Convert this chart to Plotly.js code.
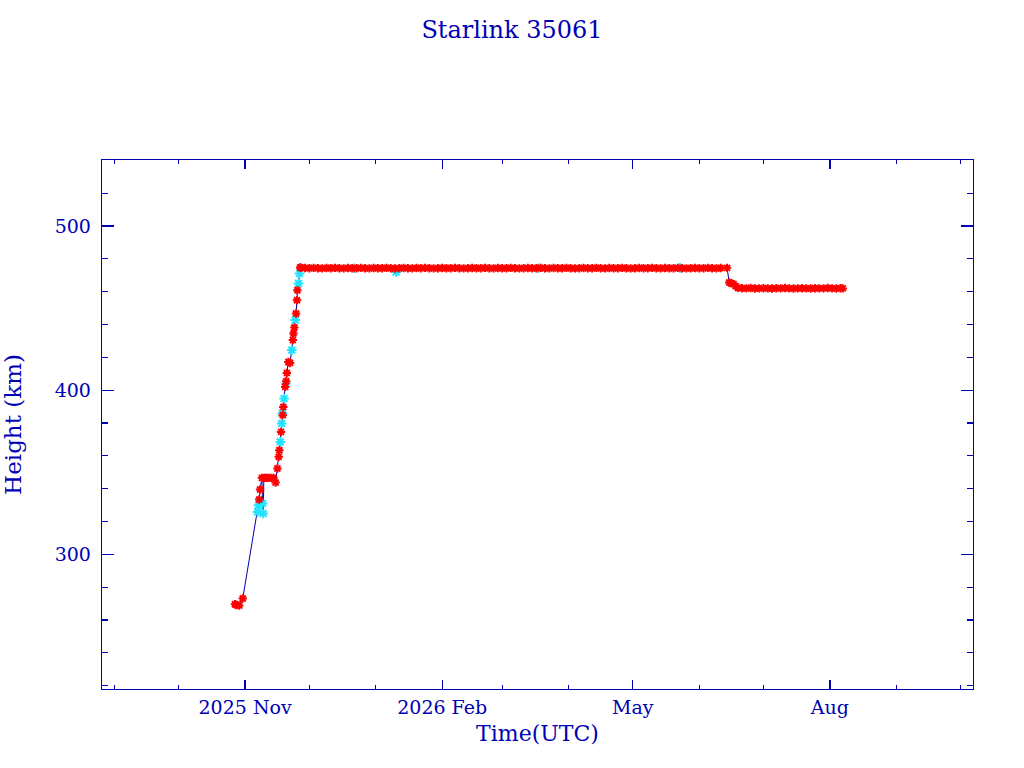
<!DOCTYPE html>
<html>
<head>
<meta charset="utf-8">
<script src="https://cdn.plot.ly/plotly-3.0.1.min.js"></script>
<style>html,body{margin:0;padding:0;background:#fff;}#chart{width:1024px;height:768px;}</style>
</head>
<body>
<div id="chart"></div>
<script>
// ---- data ----
const chartTitle = "Starlink 35061";
const xTitle = "Time(UTC)";
const yTitle = "Height (km)";

const xTickDates = ["2025-11-01", "2026-02-01", "2026-05-01", "2026-08-01"];
const xTickLabels = ["2025 Nov", "2026 Feb", "May", "Aug"];

// red (primary) observations: rise phase
const redRiseDates = [
  "2025-10-27 07:00", "2025-10-28 00:00", "2025-10-29 07:00", "2025-10-30 22:00",
  "2025-11-07 14:00", "2025-11-08 00:00", "2025-11-08 20:00", "2025-11-09 18:00",
  "2025-11-10 12:00", "2025-11-11 06:00", "2025-11-12 06:00", "2025-11-13 06:00",
  "2025-11-14 06:00", "2025-11-15 06:00", "2025-11-16 02:00", "2025-11-16 17:00",
  "2025-11-17 00:00", "2025-11-17 19:00", "2025-11-18 14:00", "2025-11-18 20:00",
  "2025-11-19 17:00", "2025-11-20 05:00", "2025-11-20 12:00", "2025-11-21 05:00",
  "2025-11-22 00:00", "2025-11-23 07:00", "2025-11-23 14:00", "2025-11-24 00:00",
  "2025-11-24 19:00", "2025-11-25 05:00", "2025-11-25 10:00", "2025-11-26 17:00"
];
const redRiseHeights = [
  269.6, 269.2, 268.8, 273.1,
  333.4, 339.5, 346.6, 346.6,
  346.6, 346.6, 346.6, 346.6,
  346.6, 343.8, 352.3, 359.4,
  363.4, 374.6, 384.8, 389.8,
  402.0, 405.5, 410.5, 417.2,
  416.6, 430.5, 434.5, 438.2,
  446.7, 454.8, 460.9, 474.7
];

// red observations: upper plateau
const redUpperDates = [
  "2025-11-27","2025-11-29","2025-12-01","2025-12-03","2025-12-05","2025-12-07","2025-12-09","2025-12-11","2025-12-13","2025-12-15",
  "2025-12-17","2025-12-19","2025-12-21","2025-12-23","2025-12-25","2025-12-27","2025-12-29","2025-12-31","2026-01-02","2026-01-04",
  "2026-01-06","2026-01-08","2026-01-10","2026-01-12","2026-01-14","2026-01-16","2026-01-18","2026-01-20","2026-01-22","2026-01-24",
  "2026-01-26","2026-01-28","2026-01-30","2026-02-01","2026-02-03","2026-02-05","2026-02-07","2026-02-09","2026-02-11","2026-02-13",
  "2026-02-15","2026-02-17","2026-02-19","2026-02-21","2026-02-23","2026-02-25","2026-02-27","2026-03-01","2026-03-03","2026-03-05",
  "2026-03-07","2026-03-09","2026-03-11","2026-03-13","2026-03-15","2026-03-17","2026-03-19","2026-03-21","2026-03-23","2026-03-25",
  "2026-03-27","2026-03-29","2026-03-31","2026-04-02","2026-04-04","2026-04-06","2026-04-08","2026-04-10","2026-04-12","2026-04-14",
  "2026-04-16","2026-04-18","2026-04-20","2026-04-22","2026-04-24","2026-04-26","2026-04-28","2026-04-30","2026-05-02","2026-05-04",
  "2026-05-06","2026-05-08","2026-05-10","2026-05-12","2026-05-14","2026-05-16","2026-05-18","2026-05-20","2026-05-22","2026-05-24",
  "2026-05-26","2026-05-28","2026-05-30","2026-06-01","2026-06-03","2026-06-05","2026-06-07","2026-06-09","2026-06-11","2026-06-14"
];
const redUpperHeights = [
  474.6, 474.4, 474.3, 474.5, 474.3, 474.2, 474.4, 474.3, 474.5, 474.3,
  474.2, 474.4, 474.3, 474.3, 474.5, 474.3, 474.2, 474.4, 474.3, 474.3,
  474.5, 474.3, 474.1, 474.3, 474.4, 474.3, 474.2, 474.4, 474.3, 474.5,
  474.3, 474.2, 474.3, 474.4, 474.3, 474.3, 474.5, 474.3, 474.2, 474.3,
  474.4, 474.3, 474.3, 474.5, 474.3, 474.2, 474.4, 474.3, 474.3, 474.5,
  474.3, 474.2, 474.3, 474.4, 474.3, 474.3, 474.5, 474.3, 474.2, 474.4,
  474.3, 474.3, 474.5, 474.3, 474.2, 474.3, 474.4, 474.3, 474.3, 474.5,
  474.3, 474.2, 474.4, 474.3, 474.3, 474.5, 474.3, 474.2, 474.3, 474.4,
  474.3, 474.3, 474.5, 474.3, 474.2, 474.4, 474.3, 474.3, 474.5, 474.3,
  474.2, 474.3, 474.4, 474.3, 474.3, 474.5, 474.3, 474.2, 474.4, 474.5
];

// red observations: lower plateau
const redLowerDates = [
  "2026-06-15","2026-06-16","2026-06-17","2026-06-18","2026-06-19","2026-06-21","2026-06-23","2026-06-25","2026-06-27","2026-06-29",
  "2026-07-01","2026-07-03","2026-07-05","2026-07-07","2026-07-09","2026-07-11","2026-07-13","2026-07-15","2026-07-17","2026-07-19",
  "2026-07-21","2026-07-23","2026-07-25","2026-07-27","2026-07-29","2026-07-31","2026-08-02","2026-08-04","2026-08-06","2026-08-07"
];
const redLowerHeights = [
  465.6, 465.2, 464.6, 463.4, 462.4, 462.1, 462.0, 462.2, 461.9, 462.0,
  462.1, 462.0, 461.9, 462.1, 462.0, 462.2, 462.0, 461.9, 462.0, 462.1,
  462.0, 461.9, 462.1, 462.0, 462.0, 462.2, 462.0, 461.9, 462.1, 462.0
];

// cyan (secondary) observations
const cyanDates = [
  "2025-11-06 19:00", "2025-11-07 05:00", "2025-11-09 04:00", "2025-11-09 12:00",
  "2025-11-17 10:00", "2025-11-18 02:00", "2025-11-18 10:00", "2025-11-19 05:00",
  "2025-11-20 02:00", "2025-11-22 19:00", "2025-11-24 10:00", "2025-11-25 22:00",
  "2025-11-26 10:00", "2025-12-22 00:00", "2026-01-10 12:00", "2026-03-18 00:00",
  "2026-05-23 00:00"
];
const cyanHeights = [
  325.8, 329.9, 331.0, 324.9,
  368.5, 379.7, 386.0, 394.9,
  404.0, 424.4, 442.7, 465.0,
  471.1, 474.3, 472.0, 474.3,
  474.5
];

// ---- build traces ----
const navy = "#0000b4";
const allPts = [];
redRiseDates.forEach((d, i) => allPts.push([d, redRiseHeights[i]]));
redUpperDates.forEach((d, i) => allPts.push([d, redUpperHeights[i]]));
redLowerDates.forEach((d, i) => allPts.push([d, redLowerHeights[i]]));
cyanDates.forEach((d, i) => allPts.push([d, cyanHeights[i]]));
allPts.sort((a, b) => new Date(a[0].replace(" ", "T")) - new Date(b[0].replace(" ", "T")));

const lineTrace = {
  x: allPts.map(p => p[0]), y: allPts.map(p => p[1]),
  type: "scatter", mode: "lines",
  line: {color: "#0000aa", width: 1},
  hoverinfo: "skip", showlegend: false
};
const cyanTrace = {
  x: cyanDates, y: cyanHeights, type: "scatter", mode: "markers",
  marker: {symbol: "asterisk-open", size: 8, line: {color: "#20e4ff", width: 2}, color: "#20e4ff"},
  showlegend: false
};
const redTrace = {
  x: redRiseDates.concat(redUpperDates, redLowerDates),
  y: redRiseHeights.concat(redUpperHeights, redLowerHeights),
  type: "scatter", mode: "markers",
  marker: {symbol: "asterisk-open", size: 7, line: {color: "#ff0000", width: 2}, color: "#ff0000"},
  showlegend: false
};

const fontFam = "DejaVu Serif, Liberation Serif, serif";
const layout = {
  width: 1024, height: 768,
  paper_bgcolor: "#ffffff", plot_bgcolor: "#ffffff",
  margin: {l: 102, r: 51, t: 160, b: 79, pad: 0},
  font: {family: fontFam, color: navy},
  title: {text: chartTitle, x: 0.5, xref: "container", xanchor: "center", y: 0.962, yref: "container", yanchor: "middle",
          font: {family: fontFam, size: 24, color: navy}},
  xaxis: {
    type: "date",
    range: ["2025-08-26 05:00", "2026-10-06 19:00"],
    tickmode: "array", tickvals: xTickDates, ticktext: xTickLabels,
    ticks: "inside", ticklen: 9, tickwidth: 1.2, tickcolor: navy,
    minor: {dtick: "M1", tick0: "2025-09-01", ticks: "inside", ticklen: 4, tickwidth: 1.2, tickcolor: navy, showgrid: false},
    showline: true, linecolor: navy, linewidth: 1.3, mirror: "allticks",
    showgrid: false, zeroline: false,
    tickfont: {family: fontFam, size: 19, color: navy},
    ticklabelstandoff: 1,
    title: {text: xTitle, font: {family: fontFam, size: 22, color: navy}, standoff: 8}
  },
  yaxis: {
    range: [218, 540.2],
    tickmode: "linear", tick0: 0, dtick: 100,
    ticks: "inside", ticklen: 12, tickwidth: 1.2, tickcolor: navy,
    minor: {dtick: 20, tick0: 0, ticks: "inside", ticklen: 6, tickwidth: 1.2, tickcolor: navy, showgrid: false},
    showline: true, linecolor: navy, linewidth: 1.3, mirror: "allticks",
    showgrid: false, zeroline: false,
    tickfont: {family: fontFam, size: 19, color: navy},
    ticklabelstandoff: 6,
    title: {text: yTitle, font: {family: fontFam, size: 23, color: navy}, standoff: 26}
  }
};

Plotly.newPlot("chart", [lineTrace, cyanTrace, redTrace], layout, {displayModeBar: false, staticPlot: true});
</script>
</body>
</html>
